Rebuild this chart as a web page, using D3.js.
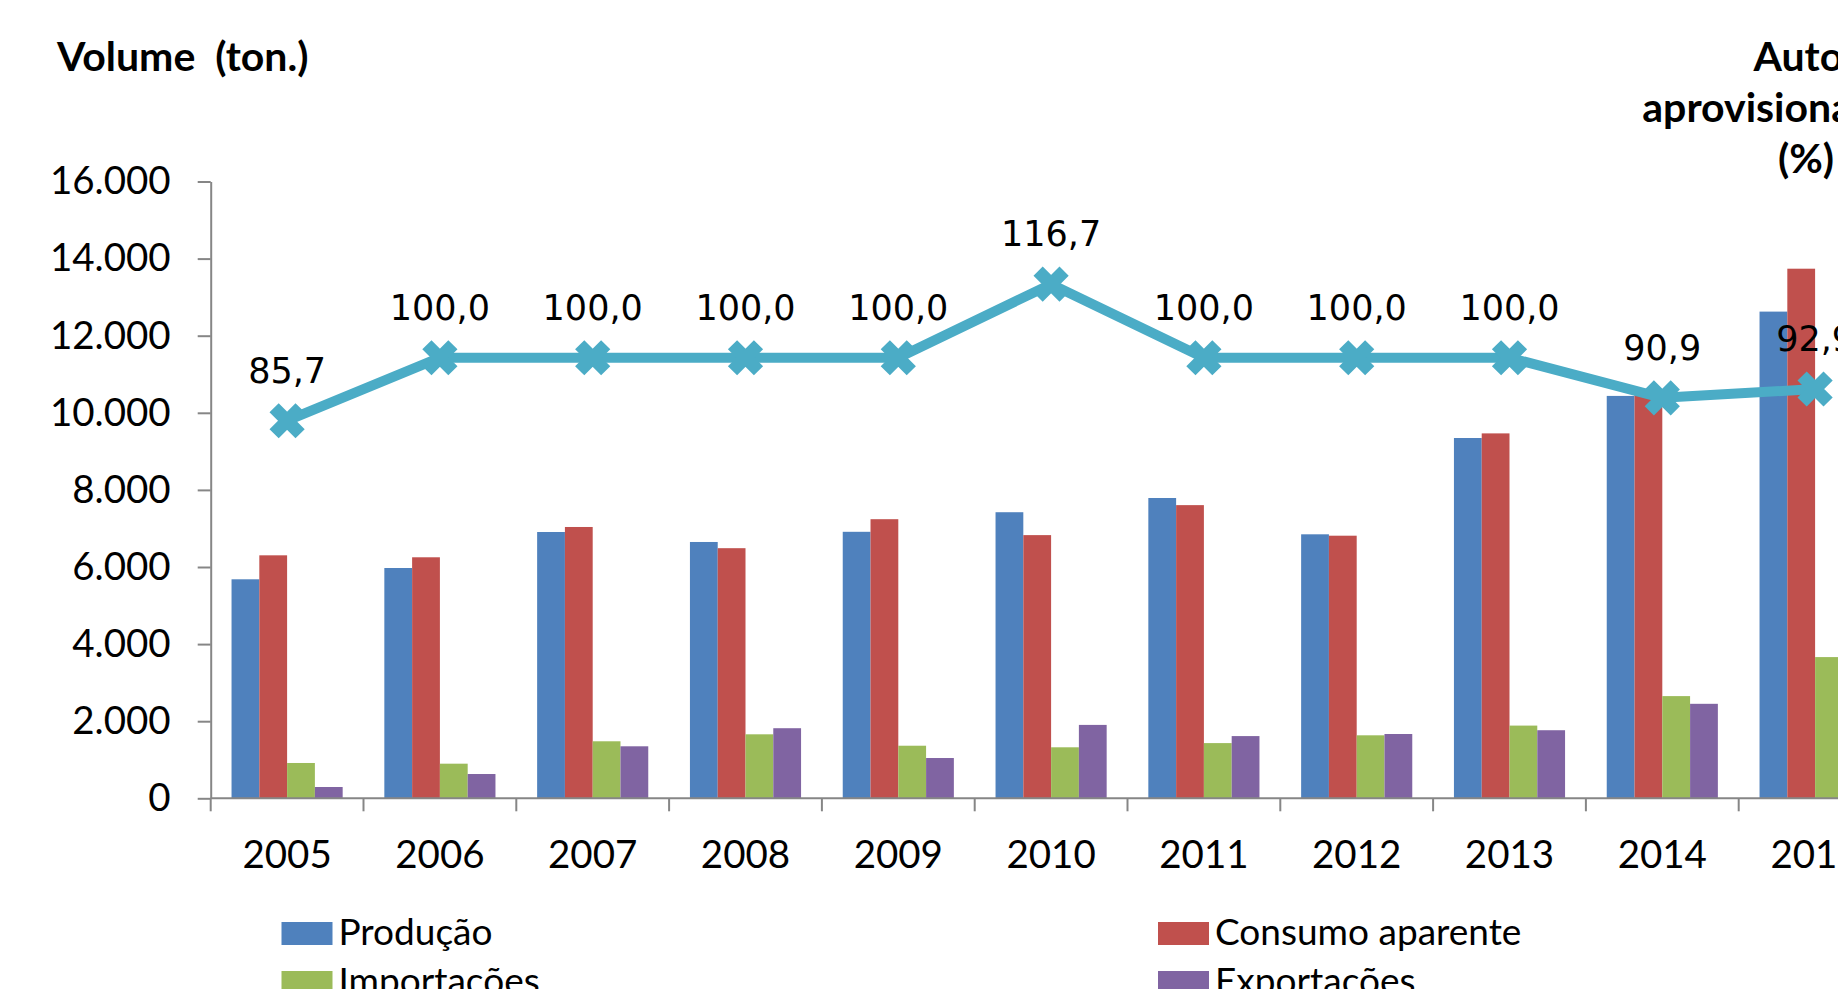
<!DOCTYPE html>
<html>
<head>
<meta charset="utf-8">
<script src="https://cdn.jsdelivr.net/npm/d3@7"></script>
<style>
  body { margin: 0; background: #fff; }
  svg { display: block; }
</style>
</head>
<body>
<div id="chart"></div>
<script>
// dados (toneladas)
var years = ["2005", "2006", "2007", "2008", "2009", "2010", "2011", "2012", "2013", "2014", "2015"];
var producao    = [5681, 5974, 6908, 6649, 6913, 7421, 7790, 6848, 9346, 10438, 12625];
var consumo     = [6303, 6252, 7038, 6488, 7240, 6827, 7605, 6812, 9466, 10600, 13738];
var importacoes = [916, 898, 1479, 1660, 1364, 1323, 1432, 1634, 1886, 2651, 3663];
var exportacoes = [293, 630, 1349, 1818, 1045, 1904, 1614, 1668, 1766, 2451, 2550];
var autoAprov   = [85.7, 100.0, 100.0, 100.0, 100.0, 116.7, 100.0, 100.0, 100.0, 90.9, 92.9];
var yTicks  = [0, 2000, 4000, 6000, 8000, 10000, 12000, 14000, 16000];
var y2Ticks = [0, 20, 40, 60, 80, 100, 120, 140];

var seriesNames  = ["Produção", "Consumo aparente", "Importações", "Exportações"];
var seriesValues = [producao, consumo, importacoes, exportacoes];
var colors = ["#4F81BD", "#C0504D", "#9BBB59", "#8064A2"];
var lineColor = "#4BACC6";

var W = 1838, H = 989;
var plotLeft = 210.7, plotTop = 181.5, plotBottom = 798.3, step = 152.8;

var svg = d3.select("#chart").append("svg")
    .attr("width", W)
    .attr("height", H)
    .style("font-family", "Lato, 'Open Sans', sans-serif");

var loc = d3.formatLocale({decimal: ",", thousands: ".", grouping: [3], currency: ["", ""]});
var fmtY = loc.format(",d");
var fmtPct = loc.format(".1f");

var x0 = d3.scaleBand()
    .domain(years)
    .range([plotLeft, plotLeft + step * years.length])
    .padding(0);

var x1 = d3.scaleBand()
    .domain(d3.range(seriesNames.length))
    .range([0, x0.bandwidth()])
    .paddingInner(0)
    .paddingOuter(0.75);

var y = d3.scaleLinear().domain([0, 16000]).range([plotBottom, plotTop]);
var y2 = d3.scaleLinear().domain([0, 140]).range([plotBottom, plotTop]);

// barras
var groups = svg.append("g").selectAll("g")
    .data(years)
    .join("g")
    .attr("transform", function(d) { return "translate(" + x0(d) + ",0)"; });

groups.selectAll("rect")
    .data(function(d, i) {
      return seriesValues.map(function(s, k) { return {k: k, v: s[i]}; });
    })
    .join("rect")
    .attr("x", function(d) { return x1(d.k); })
    .attr("width", x1.bandwidth())
    .attr("y", function(d) { return y(d.v); })
    .attr("height", function(d) { return y(0) - y(d.v); })
    .attr("fill", function(d) { return colors[d.k]; });

// eixo Y esquerdo
var yAxis = svg.append("g")
    .attr("transform", "translate(" + plotLeft + ",0)")
    .call(d3.axisLeft(y).tickValues(yTicks).tickFormat(fmtY).tickSize(13).tickSizeOuter(0).tickPadding(27));
yAxis.select(".domain").attr("stroke", "#868686").attr("stroke-width", 2);
yAxis.selectAll(".tick line").attr("stroke", "#868686").attr("stroke-width", 2);
yAxis.selectAll(".tick text").attr("font-size", 38.5).attr("fill", "#000")
    .attr("font-family", "Lato, sans-serif");

// eixo Y direito (fica fora da área visível)
var y2Axis = svg.append("g")
    .attr("transform", "translate(" + x0.range()[1] + ",0)")
    .call(d3.axisRight(y2).tickValues(y2Ticks).tickSize(13).tickSizeOuter(0));
y2Axis.selectAll("path, line").attr("stroke", "#868686").attr("stroke-width", 2);

// eixo X
svg.append("line")
    .attr("x1", x0.range()[0]).attr("x2", x0.range()[1])
    .attr("y1", y(0)).attr("y2", y(0))
    .attr("stroke", "#868686").attr("stroke-width", 2);

var bounds = years.map(function(d) { return x0(d); }).concat([x0.range()[1]]);
svg.append("g").selectAll("line")
    .data(bounds)
    .join("line")
    .attr("x1", function(d) { return d; }).attr("x2", function(d) { return d; })
    .attr("y1", y(0)).attr("y2", y(0) + 13)
    .attr("stroke", "#868686").attr("stroke-width", 2);

svg.append("g").selectAll("text")
    .data(years)
    .join("text")
    .attr("x", function(d) { return x0(d) + x0.bandwidth() / 2; })
    .attr("y", y(0) + 70)
    .attr("text-anchor", "middle")
    .attr("font-size", 38.5)
    .text(function(d) { return d; });

// linha de auto-aprovisionamento
var cx = function(d, i) { return x0(years[i]) + x0.bandwidth() / 2; };
var line = d3.line()
    .x(function(d, i) { return cx(d, i); })
    .y(function(d) { return y2(d); });

svg.append("path")
    .datum(autoAprov)
    .attr("d", line)
    .attr("fill", "none")
    .attr("stroke", lineColor)
    .attr("stroke-width", 10)
    .attr("stroke-linejoin", "round");

var m = 13;
svg.append("g").selectAll("path")
    .data(autoAprov)
    .join("path")
    .attr("transform", function(d, i) { return "translate(" + cx(d, i) + "," + y2(d) + ")"; })
    .attr("d", "M" + (-m) + "," + (-m) + "L" + m + "," + m + "M" + (-m) + "," + m + "L" + m + "," + (-m))
    .attr("stroke", lineColor)
    .attr("stroke-width", 13)
    .attr("fill", "none");

svg.append("g").selectAll("text")
    .data(autoAprov)
    .join("text")
    .attr("x", function(d, i) { return cx(d, i); })
    .attr("y", function(d) { return y2(d) - 38; })
    .attr("text-anchor", "middle")
    .attr("font-family", "'DejaVu Sans', sans-serif")
    .attr("font-size", 35)
    .text(function(d) { return fmtPct(d); });

// títulos dos eixos
svg.append("text")
    .attr("x", 57).attr("y", 71)
    .attr("font-size", 41).attr("font-weight", "bold")
    .style("white-space", "pre")
    .text("Volume  (ton.)");

var rTitle = svg.append("text")
    .attr("text-anchor", "middle")
    .attr("font-size", 41).attr("font-weight", "bold");
["Auto-", "aprovisionamento", "(%)"].forEach(function(t, i) {
  rTitle.append("tspan").attr("x", 1806).attr("y", 71 + i * 51).text(t);
});

// legenda
var legend = svg.append("g").selectAll("g")
    .data(seriesNames)
    .join("g")
    .attr("transform", function(d, i) {
      return "translate(" + (i % 2 === 0 ? 281.5 : 1158) + "," + (922 + Math.floor(i / 2) * 49) + ")";
    });
legend.append("rect")
    .attr("width", 51).attr("height", 23)
    .attr("fill", function(d, i) { return colors[i]; });
legend.append("text")
    .attr("x", 57).attr("y", 23)
    .attr("font-size", 37)
    .text(function(d) { return d; });
</script>
</body>
</html>
